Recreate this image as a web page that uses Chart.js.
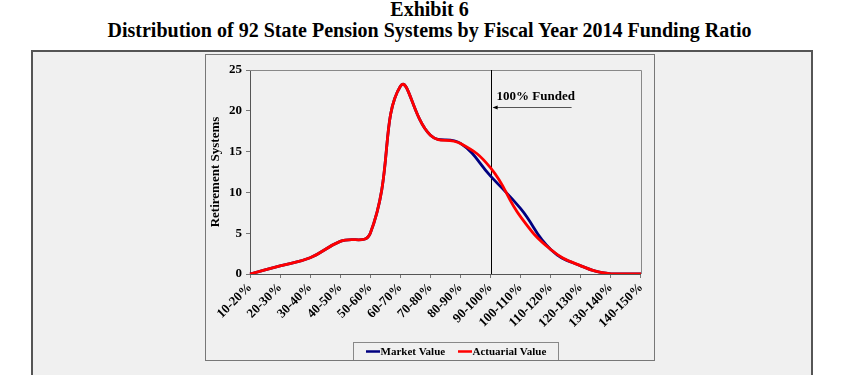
<!DOCTYPE html>
<html><head><meta charset="utf-8">
<script src="https://cdn.jsdelivr.net/npm/chart.js@4/dist/chart.umd.min.js"></script>
<style>
html,body{margin:0;padding:0;background:#fff;width:849px;height:375px;overflow:hidden;font-family:"Liberation Serif","Times New Roman",serif;}
.t{position:absolute;left:10px;width:839px;text-align:center;font-weight:bold;font-size:20px;line-height:20px;white-space:nowrap;color:#000}
#outer{position:absolute;left:31px;top:50px;width:778px;height:340px;border:2px solid #555;background:#f0f0f0;}
#inner{position:absolute;left:205px;top:54px;width:448px;height:305px;border:1px solid #777;background:#f0f0f0;}
canvas{display:block}
</style></head>
<body>
<div class="t" style="top:-1px">Exhibit 6</div>
<div class="t" style="top:20px">Distribution of 92 State Pension Systems by Fiscal Year 2014 Funding Ratio</div>
<div id="outer"></div>
<div id="inner"><canvas id="c" width="448" height="305"></canvas></div>
<script>
const categories = ['10-20%','20-30%','30-40%','40-50%','50-60%','60-70%','70-80%','80-90%','90-100%','100-110%','110-120%','120-130%','130-140%','140-150%'];
const marketValue = [0,1,2,4,5,23,17,16,12,8,3,1,0,0];
const actuarialValue = [0,1,2,4,5,23,17,16,13,7,3,1,0,0];
const yTicks = [0,5,10,15,20,25];
const fundedCategory = '90-100%';
const fundedLabel = '100% Funded';
const seriesNames = ['Market Value','Actuarial Value'];
const seriesColors = ['#000080','#ff0000'];

const FONT = 'Liberation Serif';

const extras = {
  id:'extras',
  beforeDatasetsDraw(chart){
    const {ctx, chartArea:a, scales} = chart;
    ctx.save();
    ctx.strokeStyle = '#888'; ctx.lineWidth = 1;
    ctx.beginPath();
    ctx.moveTo(a.left, Math.round(a.top)+0.5); ctx.lineTo(Math.round(a.right)+0.5, Math.round(a.top)+0.5);
    ctx.lineTo(Math.round(a.right)+0.5, a.bottom);
    ctx.stroke();
    const x = Math.round(scales.x.getPixelForValue(categories.indexOf(fundedCategory)))+0.5;
    ctx.strokeStyle = '#000';
    ctx.beginPath(); ctx.moveTo(x, a.top); ctx.lineTo(x, a.bottom); ctx.stroke();
    ctx.restore();
  },
  afterDraw(chart){
    const {ctx, chartArea:a, scales} = chart;
    ctx.save();
    const x = scales.x.getPixelForValue(categories.indexOf(fundedCategory));
    const ty = scales.y.getPixelForValue(21.7);
    const ay = Math.round(scales.y.getPixelForValue(20.5))+0.5;
    ctx.fillStyle = '#000';
    ctx.font = 'bold 13px "'+FONT+'"';
    ctx.textAlign = 'left'; ctx.textBaseline = 'middle';
    ctx.fillText(fundedLabel, x+6, ty);
    ctx.strokeStyle = '#555'; ctx.lineWidth = 1;
    ctx.beginPath(); ctx.moveTo(x+3, ay); ctx.lineTo(x+81, ay); ctx.stroke();
    ctx.fillStyle = '#000';
    ctx.beginPath(); ctx.moveTo(x+2, ay); ctx.lineTo(x+7, ay-2); ctx.lineTo(x+7, ay+2); ctx.closePath(); ctx.fill();

    // legend
    const lx = 147, ly = 287, lw = 205, lh = 18;
    ctx.fillStyle = '#f0f0f0';
    ctx.fillRect(lx, ly, lw, lh);
    ctx.strokeStyle = '#888';
    ctx.strokeRect(lx+0.5, ly+0.5, lw, lh);
    ctx.font = 'bold 11px "'+FONT+'"';
    ctx.textBaseline = 'middle';
    const items = chart.data.datasets;
    const starts = [160, 252];
    items.forEach((d,i)=>{
      const sx = starts[i];
      ctx.strokeStyle = d.borderColor; ctx.lineWidth = 2.5;
      ctx.beginPath(); ctx.moveTo(sx, ly+9.5); ctx.lineTo(sx+14, ly+9.5); ctx.stroke();
      ctx.fillStyle = '#000';
      ctx.fillText(d.label, sx+14.5, ly+10);
    });
    ctx.restore();
  }
};

new Chart(document.getElementById('c'), {
  type:'line',
  data:{labels:categories, datasets:[
    {label:seriesNames[0], data:marketValue, borderColor:seriesColors[0], borderWidth:2.8, pointRadius:0, tension:0.45, fill:false, order:2},
    {label:seriesNames[1], data:actuarialValue, borderColor:seriesColors[1], borderWidth:2.8, pointRadius:0, tension:0.45, fill:false, order:1}
  ]},
  options:{
    responsive:false, animation:false, devicePixelRatio:1,
    layout:{padding:{left:0,right:13,top:15,bottom:0}},
    plugins:{legend:{display:false}, tooltip:{enabled:false}},
    scales:{
      x:{
        offset:false,
        grid:{display:true, drawOnChartArea:false, tickLength:4, color:'#777'},
        border:{color:'#555', width:1},
        ticks:{autoSkip:false, maxRotation:45, minRotation:45, padding:2, color:'#000', font:{family:FONT, size:13, weight:'bold'}},
        afterFit:s=>{s.height=86;}
      },
      y:{
        min:0, max:25,
        afterBuildTicks:s=>{s.ticks = yTicks.map(v=>({value:v}));},
        grid:{display:true, drawOnChartArea:false, tickLength:4, color:'#777'},
        border:{color:'#555', width:1},
        ticks:{padding:4, color:'#000', font:{family:FONT, size:13, weight:'bold'}},
        title:{display:true, text:'Retirement Systems', color:'#000', font:{family:FONT, size:13, weight:'bold'}, padding:{top:2,bottom:0}},
        afterFit:s=>{s.width=44;}
      }
    }
  },
  plugins:[extras]
});
</script>
</body></html>
